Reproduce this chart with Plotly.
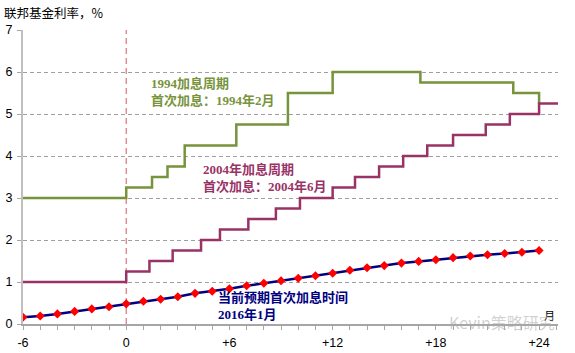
import plotly.graph_objects as go

# ---- data ----
# 1994 hiking cycle: months since first hike (Feb 1994) at which the rate changed, and the new rate
g94_month = [-6, 0, 1.5, 2.4, 3.4, 6.4, 9.4, 12.0, 17.1, 22.5, 24.0]
g94_rate = [3.0, 3.25, 3.5, 3.75, 4.25, 4.75, 5.5, 6.0, 5.75, 5.5, 5.25]

# 2004 hiking cycle: months since first hike (Jun 2004)
g04_month = [-6, 0, 1.35, 2.7, 4.35, 5.45, 7.1, 8.7, 10.1, 12.0, 13.3, 14.7,
             16.1, 17.5, 19.0, 20.9, 22.3, 24.0, 25.1]
g04_rate = [1.0, 1.25, 1.5, 1.75, 2.0, 2.25, 2.5, 2.75, 3.0, 3.25, 3.5, 3.75,
            4.0, 4.25, 4.5, 4.75, 5.0, 5.25, 5.25]

# current expected path (first hike expected Jan 2016), monthly
exp_month = list(range(-6, 25))
exp_rate = [0.16, 0.19, 0.24, 0.30, 0.36, 0.41, 0.48, 0.54, 0.59, 0.65, 0.73,
            0.78, 0.84, 0.91, 0.97, 1.03, 1.09, 1.15, 1.21, 1.28, 1.34, 1.39,
            1.45, 1.49, 1.53, 1.58, 1.62, 1.65, 1.68, 1.71, 1.75]

x_tickvals = [-6, 0, 6, 12, 18, 24]
x_ticktext = ["-6", "0", "+6", "+12", "+18", "+24"]
y_tickvals = [0, 1, 2, 3, 4, 5, 6, 7]

GREEN = "#77933C"
PURPLE = "#993366"
NAVY = "#000080"

fig = go.Figure()

fig.add_trace(go.Scatter(x=g94_month, y=g94_rate, mode="lines", line_shape="hv",
                         line=dict(color=GREEN, width=2.5), showlegend=False,
                         hoverinfo="skip"))
fig.add_trace(go.Scatter(x=g04_month, y=g04_rate, mode="lines", line_shape="hv",
                         line=dict(color=PURPLE, width=2.5), showlegend=False,
                         hoverinfo="skip"))
fig.add_trace(go.Scatter(x=exp_month, y=exp_rate, mode="lines+markers",
                         line=dict(color=NAVY, width=2.5),
                         marker=dict(symbol="diamond", color="#FF0000", size=7,
                                     line=dict(width=0)),
                         showlegend=False, hoverinfo="skip"))

# vertical dashed marker at first hike
fig.add_shape(type="line", x0=0, x1=0, y0=0, y1=7, xref="x", yref="y",
              line=dict(color="#D9737A", width=1.2, dash="6px,4px"), layer="below")

serif_cjk = "Liberation Serif, Noto Sans CJK SC"

fig.add_annotation(x=1.35, y=5.52, xref="x", yref="y", xanchor="left", yanchor="middle",
                   text="<b>1994加息周期<br>首次加息：1994年2月</b>", showarrow=False,
                   align="left", font=dict(family=serif_cjk, size=13, color=GREEN))
fig.add_annotation(x=4.35, y=3.48, xref="x", yref="y", xanchor="left", yanchor="middle",
                   text="<b>2004年加息周期<br>首次加息：2004年6月</b>", showarrow=False,
                   align="left", font=dict(family=serif_cjk, size=13, color=PURPLE))
fig.add_annotation(x=5.2, y=0.43, xref="x", yref="y", xanchor="left", yanchor="middle",
                   text="<b>当前预期首次加息时间<br>2016年1月</b>", showarrow=False,
                   align="left", font=dict(family=serif_cjk, size=13, color=NAVY))

# axis titles
fig.add_annotation(x=-0.039, y=1.058, xref="paper", yref="paper", xanchor="left",
                   yanchor="middle", text="联邦基金利率，%", showarrow=False,
                   font=dict(family="Noto Sans CJK SC", size=12.5, color="#000000"))
fig.add_annotation(x=0.985, y=0.03, xref="paper", yref="paper", xanchor="center",
                   yanchor="middle", text="月", showarrow=False,
                   font=dict(family="Noto Sans CJK SC", size=11, color="#000000"))

# watermark
fig.add_annotation(x=0.998, y=0.006, xref="paper", yref="paper", xanchor="right",
                   yanchor="middle", text="Kevin策略研究", showarrow=False,
                   font=dict(family="Noto Sans CJK SC", size=16, color="rgba(170,170,170,0.55)"))

fig.update_layout(
    width=575, height=353,
    margin=dict(l=23, r=17, t=30, b=29),
    paper_bgcolor="white", plot_bgcolor="white",
    font=dict(family="Liberation Sans, Arial", size=12.5, color="#000000"),
    xaxis=dict(range=[-6, 25.1], tickmode="array", tickvals=x_tickvals,
               ticktext=x_ticktext, showgrid=False, zeroline=False,
               showline=True, linecolor="#A6A6A6", linewidth=1.5,
               ticks="", ticklabelstandoff=6, automargin=False,
               minor=dict(dtick=1, tick0=0, ticks="outside", ticklen=4,
                          tickcolor="#A6A6A6", tickwidth=1)),
    yaxis=dict(range=[0, 7], tickmode="array", tickvals=y_tickvals,
               showgrid=True, gridcolor="#A0A0A0", griddash="4px,3px", gridwidth=1,
               zeroline=False, showline=True, linecolor="#BFBFBF", linewidth=2,
               ticks="outside", ticklen=4, tickcolor="#A6A6A6",
               ticklabelstandoff=2, automargin=False),
)

fig.write_html("out.html")
